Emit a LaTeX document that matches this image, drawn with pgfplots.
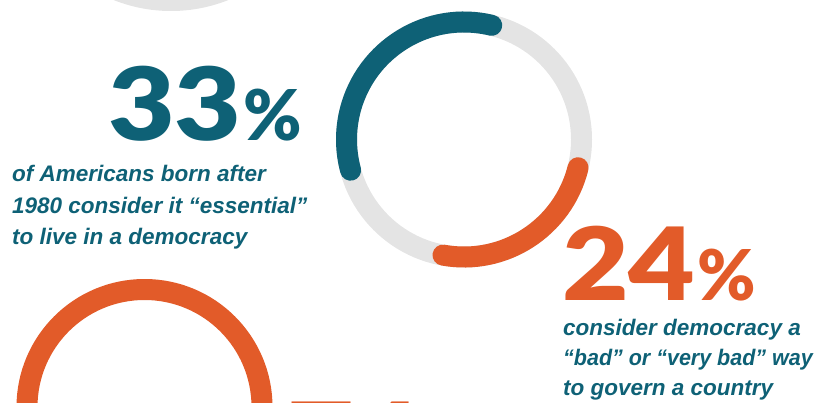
\documentclass[border=0pt]{standalone}
\usepackage{pgfplots}
\pgfplotsset{compat=1.18}
\usepackage{fontspec}
\setmainfont{Liberation Sans}
\newfontfamily\heavy[FakeStretch=1.14]{Lato Black}
\newfontfamily\heavyp{Lato Black}
\definecolor{dteal}{HTML}{0E6176}
\definecolor{dorange}{HTML}{E25B29}
\definecolor{lgray}{HTML}{E4E4E4}
% ring data: percentages shown as arcs (degrees = pct * 3.6)
\def\pctA{33}\def\midA{135.75}
\def\pctB{24}\def\midB{-57.1}
\begin{document}
\begin{tikzpicture}[x=1pt,y=1pt]
\useasboundingbox (0,0) rectangle (819,402);
\begin{axis}[at={(0,0)},anchor=south west,scale only axis,width=819pt,height=402pt,
  xmin=0,xmax=819,ymin=0,ymax=402,y dir=reverse,hide axis,clip=true]
\addplot[draw=none] coordinates {(0,0) (819,402)};
% top partial gray ring
\draw[lgray,line width=21pt] (axis cs:171,-144) circle[radius=144.5pt];
% middle ring
\draw[lgray,line width=21pt] (axis cs:464,139.5) circle[radius=117.5pt];
\pgfmathsetmacro\sA{\midA-\pctA*1.8}\pgfmathsetmacro\eA{\midA+\pctA*1.8}
\pgfmathsetmacro\sB{\midB-\pctB*1.8}\pgfmathsetmacro\eB{\midB+\pctB*1.8}
\draw[dteal,line width=21pt,line cap=round] ([shift={(\sA:117.5pt)}]axis cs:464,139.5) arc[start angle=\sA,end angle=\eA,radius=117.5pt];
\draw[dorange,line width=21pt,line cap=round] ([shift={(\sB:117.5pt)}]axis cs:464,139.5) arc[start angle=\sB,end angle=\eB,radius=117.5pt];
% bottom orange ring
\draw[dorange,line width=21pt] (axis cs:144.5,407) circle[radius=117.5pt];
% big numbers
\node[anchor=base west,inner sep=0,text=dteal,font=\heavy\fontsize{101}{101}\selectfont] at (axis cs:108,140) {33\hspace{1.5pt}{\heavyp\fontsize{70}{70}\selectfont\%}};
\node[anchor=base west,inner sep=0,text=dorange,font=\heavy\fontsize{101}{101}\selectfont] at (axis cs:562,300.5) {24\hspace{1.5pt}{\heavyp\fontsize{70}{70}\selectfont\%}};
\node[anchor=base west,inner sep=0,text=dorange,font=\heavy\fontsize{101}{101}\selectfont] at (axis cs:287,475) {74\hspace{1.5pt}{\heavyp\fontsize{70}{70}\selectfont\%}};
% body text
\tikzset{bt/.style={anchor=base west,inner sep=0,text=dteal,font=\bfseries\itshape\fontsize{22.5}{22.5}\selectfont}}
\node[bt] at (axis cs:12,181.7) {of Americans born after};
\node[bt] at (axis cs:12,213.2) {1980 consider it “essential”};
\node[bt] at (axis cs:12,244.5) {to live in a democracy};
\node[bt] at (axis cs:563,335.5) {consider democracy a};
\node[bt] at (axis cs:563,365.5) {\scalebox{0.955}[1]{“bad” or “very bad” way}};
\node[bt] at (axis cs:563,395.5) {to govern a country};
\end{axis}
\end{tikzpicture}
\end{document}
